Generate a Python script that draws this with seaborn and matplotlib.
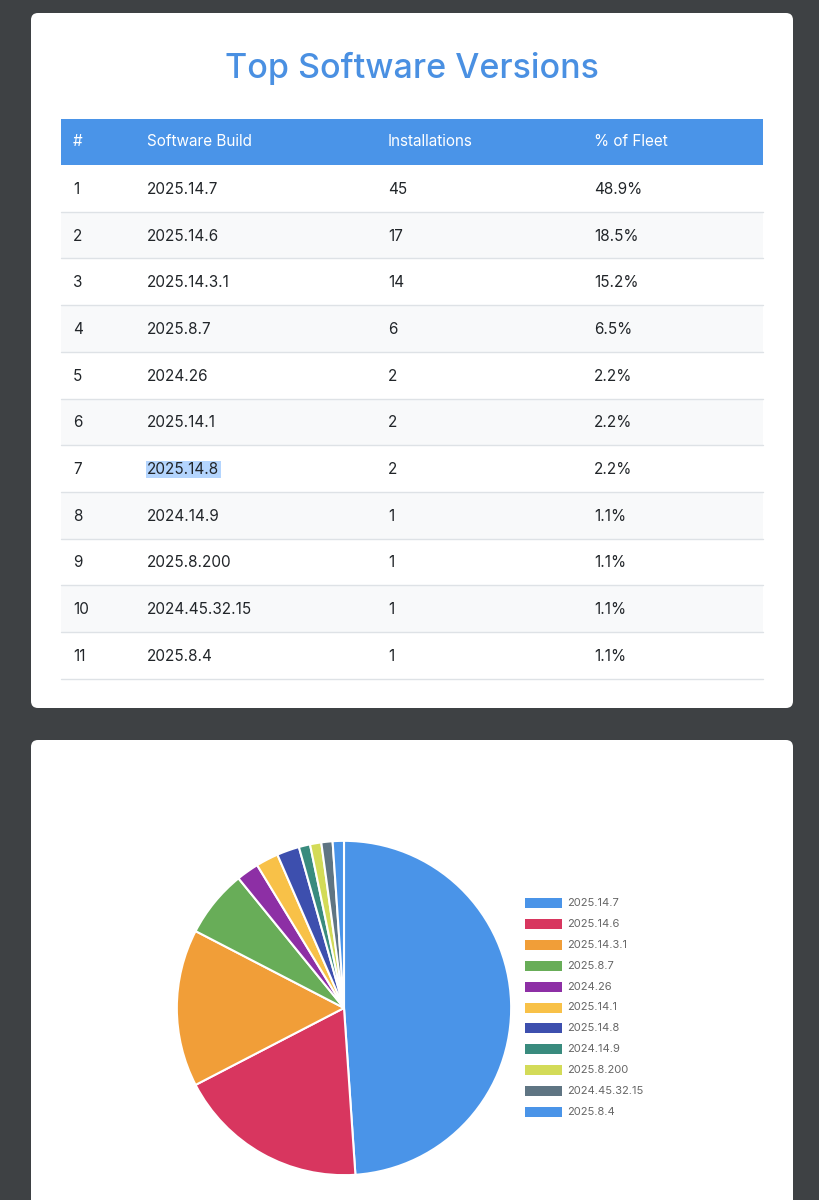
import numpy as np
import matplotlib
matplotlib.use("Agg")
import matplotlib.pyplot as plt
import seaborn as sns
from matplotlib.patches import FancyBboxPatch, Rectangle

# datos de la tabla / pie
ranks = [1, 2, 3, 4, 5, 6, 7, 8, 9, 10, 11]
builds = ["2025.14.7", "2025.14.6", "2025.14.3.1", "2025.8.7", "2024.26", "2025.14.1",
          "2025.14.8", "2024.14.9", "2025.8.200", "2024.45.32.15", "2025.8.4"]
installs = [45, 17, 14, 6, 2, 2, 2, 1, 1, 1, 1]
fleet_pct = ["48.9%", "18.5%", "15.2%", "6.5%", "2.2%", "2.2%", "2.2%", "1.1%", "1.1%", "1.1%", "1.1%"]
headers = ["#", "Software Build", "Installations", "% of Fleet"]
slice_colors = sns.color_palette(["#4a94e8", "#d8365f", "#f19e38", "#68ad58", "#8d2fa5", "#f8c148",
                                  "#3d4fae", "#398b7e", "#d3db58", "#5f7583", "#4a94e8"])

sns.set_theme(style="white")
plt.rcParams['font.family'] = ['Inter', 'DejaVu Sans']

W, H = 819, 1200
fig = plt.figure(figsize=(W / 100, H / 100), dpi=100)
fig.patch.set_facecolor("#3e4144")

bg = fig.add_axes([0, 0, 1, 1])
bg.set_xlim(0, W)
bg.set_ylim(H, 0)
bg.axis("off")

# tarjetas
for y0, y1 in [(13, 708), (740, 1230)]:
    bg.add_patch(FancyBboxPatch((31, y0), 762, y1 - y0, boxstyle="round,pad=0,rounding_size=7",
                                fc="white", ec="none"))

bg.text(412, 68, "Top Software Versions", ha="center", va="center", fontsize=24.5,
        color="#4a90e2", fontweight="medium")

# tabla
col_x = [73, 147, 388, 594]
left, right = 61, 763
head_top, head_h, row_h = 119, 46, 46.7
bg.add_patch(Rectangle((left, head_top), right - left, head_h, fc="#4a94e8", ec="none"))
for x, h in zip(col_x, headers):
    bg.text(x, head_top + head_h / 2, h, ha="left", va="center", color="white", fontsize=11)

for i, (r, b, n, p) in enumerate(zip(ranks, builds, installs, fleet_pct)):
    top = head_top + head_h + i * row_h
    if i % 2 == 1:
        bg.add_patch(Rectangle((left, top), right - left, row_h, fc="#f8f9fa", ec="none"))
    bg.plot([left, right], [top + row_h, top + row_h], color="#dee2e6", lw=1)
    cy = top + row_h / 2 + 1
    bg.text(col_x[0], cy, str(r), ha="left", va="center", color="#212529", fontsize=11)
    if b == "2025.14.8":
        bg.text(col_x[1], cy, b, ha="left", va="center", color="#212529", fontsize=11,
                bbox=dict(fc="#b4d5fe", ec="none", pad=1))
    else:
        bg.text(col_x[1], cy, b, ha="left", va="center", color="#212529", fontsize=11)
    bg.text(col_x[2], cy, str(n), ha="left", va="center", color="#212529", fontsize=11)
    bg.text(col_x[3], cy, p, ha="left", va="center", color="#212529", fontsize=11)

# pie
cx, cy, rad = 344, 1008, 168
pie_ax = fig.add_axes([(cx - rad) / W, (H - cy - rad) / H, 2 * rad / W, 2 * rad / H])
pie_ax.pie(installs, colors=slice_colors, startangle=90, counterclock=False,
           wedgeprops=dict(edgecolor="white", linewidth=1.5))
pie_ax.set_xlim(-1.005, 1.005)
pie_ax.set_ylim(-1.005, 1.005)
pie_ax.set_aspect("equal")

# leyenda
for i, (b, c) in enumerate(zip(builds, slice_colors)):
    ly = 903 + i * 20.9
    bg.add_patch(Rectangle((525, ly - 5), 37, 10, fc=c, ec="none"))
    bg.text(567, ly, b, ha="left", va="center", color="#666666", fontsize=8)

fig.savefig("out.png", dpi=100, facecolor=fig.get_facecolor())
